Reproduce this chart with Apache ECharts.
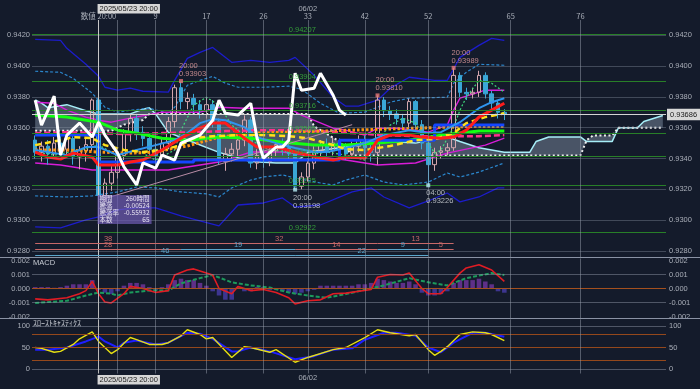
<!DOCTYPE html>
<html><head><meta charset="utf-8">
<script src="https://cdn.jsdelivr.net/npm/echarts@6/dist/echarts.min.js"></script>
<style>html,body{margin:0;padding:0;background:#141b2b;}#c{width:700px;height:389px;}</style>
</head><body><div id="c"></div>
<script>
// ---------------- DATA ----------------
const FIRST = -10, LAST = 89;           // bar numbers shown on the x axis
const barNumbers = [];
for (let i = FIRST; i <= LAST; i++) barNumbers.push(String(i));
const topTicks = {0: '数値 20:00', 9: '9', 17: '17', 26: '26', 33: '33', 42: '42', 52: '52', 65: '65', 76: '76'};
const dateTicks = {33: '06/02'};
const cursorLabel = '2025/05/23 20:00';
const vLines = [0, 3, 9, 17, 26, 33, 42, 52, 65, 76];
const mainTicks = [0.928, 0.930, 0.932, 0.934, 0.936, 0.938, 0.940, 0.942];
const macdTicks = [-0.002, -0.001, 0, 0.001, 0.002];
const stochTicks = [0, 50, 100];

// candles from bar -10 to bar 64 : [open, close, low, high]
const ohlc = [
[.9352,.9344,.9340,.9355],[.9344,.9348,.9338,.9351],[.9348,.9343,.9336,.9352],[.9343,.9350,.9340,.9354],
[.9350,.9346,.9341,.9356],[.9346,.9353,.9342,.9357],[.9353,.9341,.9336,.9355],[.9341,.9345,.9333,.9348],
[.9345,.9349,.9338,.9353],[.9349,.9378,.9345,.9379],[.9378,.9316,.9313,.9380],[.9316,.9324,.9312,.9327],
[.9324,.9331,.9319,.9335],[.9331,.9342,.9327,.9345],[.9342,.9356,.9339,.9359],[.9356,.9366,.9351,.9369],
[.9366,.9357,.9352,.9369],[.9357,.9353,.9348,.9361],[.9353,.9346,.9342,.9356],[.9346,.9342,.9336,.9350],
[.9342,.9350,.9338,.9354],[.9350,.9364,.9346,.9367],[.9364,.9386,.9360,.9388],[.9386,.9377,.9372,.93903],
[.9377,.9379,.9372,.9383],[.9379,.9375,.9370,.9382],[.9375,.9371,.9366,.9378],[.9371,.9375,.9366,.9380],
[.9375,.9364,.9360,.9378],[.9364,.9340,.9336,.9366],[.9338,.9343,.9332,.9347],[.9343,.9346,.9338,.9350],
[.9346,.9352,.9341,.9355],[.9352,.9365,.9348,.9368],[.9365,.9337,.9334,.9367],[.9337,.9342,.9333,.9346],
[.9342,.9338,.9334,.9346],[.9338,.9345,.9335,.9348],[.9345,.9349,.9341,.9352],[.9349,.9347,.9342,.9353],
[.9347,.9343,.9339,.9350],[.9343,.9322,.93198,.9345],[.9322,.9328,.9320,.9331],[.9328,.9337,.9325,.9340],
[.9337,.9345,.9333,.9348],[.9345,.9349,.9341,.9352],[.9349,.9345,.9341,.9353],[.9345,.9350,.9342,.9354],
[.9350,.9347,.9343,.9353],[.9347,.9343,.9339,.9350],[.9343,.9348,.9340,.9351],[.9348,.9352,.9344,.9355],
[.9352,.9347,.9343,.9355],[.9347,.9344,.9338,.9350],[.9344,.9378,.9336,.93810],[.9378,.9371,.9367,.9380],
[.9371,.9369,.9365,.9374],[.9369,.9366,.9362,.9372],[.9366,.9363,.9359,.9369],[.9363,.9377,.9360,.9379],
[.9377,.9362,.9358,.9378],[.9362,.9350,.9346,.9365],[.9350,.9336,.93226,.9352],[.9336,.9344,.9332,.9347],
[.9344,.9345,.9340,.9348],[.9345,.9347,.9342,.9350],[.9347,.9394,.9345,.93989],[.9394,.9383,.9380,.9396],
[.9383,.9382,.9378,.9386],[.9382,.9383,.9379,.9386],[.9383,.9394,.9380,.9397],[.9394,.9382,.9379,.9396],
[.9382,.9376,.9372,.9384],[.9376,.9370,.9366,.9378],[.9370,.93686,.9365,.9372]
];
const lastClose = 0.93686;

// indicator lines: [bar number, value]
const bbUpper3 = [[-10,.94174],[-6,.94168],[-5,.94116],[-2,.94012],[0,.93934],[1,.93863],[3,.93844],[5,.93857],[7,.93837],[11,.93831],[12,.93908],[14,.94051],[16,.94090],[18,.94122],[21,.94025],[24,.94038],[27,.94025],[30,.94038],[31,.94057],[34,.93941],[37,.93798],[39,.93740],[41,.93740],[44,.93779],[46,.93857],[49,.93928],[53,.93908],[55,.93908],[57,.94057],[60,.94135],[62,.94181],[64,.94168]];
const bbUpper2 = [[-10,.93967],[-6,.93960],[-4,.93921],[-1,.93824],[1,.93733],[3,.93701],[5,.93714],[8,.93727],[11,.93694],[12,.93733],[14,.93876],[16,.93908],[18,.93934],[20,.93889],[22,.93863],[26,.93863],[30,.93870],[32,.93850],[35,.93759],[38,.93694],[42,.93701],[46,.93766],[49,.93792],[55,.93798],[56,.93889],[58,.93960],[60,.94012],[64,.94006]];
const bbLower2 = [[-10,.93157],[-5,.93150],[-1,.93157],[3,.93183],[6,.93215],[9,.93209],[13,.93183],[17,.93170],[19,.93150],[21,.93209],[24,.93260],[26,.93280],[29,.93293],[31,.93274],[35,.93241],[37,.93228],[39,.93260],[42,.93293],[45,.93247],[48,.93228],[52,.93247],[55,.93306],[57,.93280],[60,.93312],[64,.93371]];
const bbLower3 = [[-10,.92956],[-6,.92949],[-2,.93001],[0,.93021],[3,.93066],[6,.93079],[9,.93079],[13,.93027],[19,.92962],[22,.93098],[26,.93111],[29,.93144],[31,.93085],[35,.93098],[40,.93183],[43,.93209],[45,.93150],[49,.93079],[52,.93124],[55,.93176],[57,.93118],[60,.93150],[63,.93209],[64,.93209]];
const bbUpper1 = [[-10,.93766],[-7,.93759],[-5,.93714],[-2,.93669],[0,.93649],[2,.93636],[5,.93662],[10,.93701],[14,.93701],[16,.93701],[19,.93733],[23,.93727],[30,.93727],[32,.93682],[37,.93597],[39,.93584],[42,.93552],[44,.93597],[47,.93597],[50,.93584],[52,.93571],[55,.93617],[56,.93714],[57,.93792],[61,.93844],[64,.93844]];
const bbLower1 = [[-10,.93371],[-6,.93358],[-1,.93325],[5,.93325],[11,.93325],[14,.93345],[19,.93377],[24,.93442],[29,.93442],[35,.93409],[39,.93390],[44,.93358],[50,.93371],[55,.93435],[61,.93487],[64,.93532]];
const maPink = [[-10,.93565],[-5,.93571],[0,.93565],[5,.93558],[10,.93565],[15,.93571],[20,.93578],[25,.93584],[30,.93584],[35,.93578],[40,.93565],[45,.93552],[50,.93545],[55,.93545],[60,.93545],[64,.93552]];
const maOrange = [[-10,.93455],[-5,.93455],[0,.93442],[5,.93435],[9,.93442],[12,.93468],[14,.93481],[19,.93539],[22,.93552],[25,.93565],[30,.93571],[35,.93578],[40,.93584],[45,.93591],[50,.93597],[55,.93604],[60,.93610],[64,.93610]];
const maYellow = [[-10,.93487],[-6,.93519],[-4,.93539],[-1,.93532],[1,.93487],[4,.93455],[7,.93442],[10,.93455],[13,.93487],[15,.93532],[18,.93545],[22,.93552],[26,.93552],[30,.93545],[33,.93532],[37,.93487],[39,.93461],[42,.93455],[46,.93481],[50,.93519],[53,.93526],[56,.93565],[58,.93630],[61,.93669],[64,.93694]];
const maGreen = [[-10,.93682],[-5,.93669],[0,.93636],[3,.93584],[6,.93565],[10,.93532],[14,.93519],[19,.93539],[24,.93532],[29,.93506],[34,.93487],[39,.93487],[44,.93500],[49,.93519],[54,.93552],[60,.93578],[64,.93578]];
const maRed = [[-10,.93442],[-8,.93409],[-6,.93396],[-4,.93435],[-1,.93409],[0,.93358],[3,.93358],[5,.93377],[7,.93390],[10,.93455],[13,.93532],[16,.93597],[18,.93630],[20,.93630],[21,.93597],[23,.93532],[25,.93474],[28,.93474],[31,.93442],[33,.93422],[35,.93403],[37,.93390],[39,.93409],[42,.93403],[43,.93455],[44,.93519],[46,.93552],[49,.93552],[51,.93539],[54,.93532],[56,.93539],[58,.93584],[60,.93669],[62,.93714],[64,.93759]];
const maLightBlue = [[-10,.93455],[-5,.93422],[-2,.93474],[0,.93474],[3,.93422],[6,.93455],[9,.93487],[12,.93519],[14,.93565],[16,.93630],[18,.93656],[20,.93649],[23,.93604],[25,.93539],[28,.93500],[31,.93468],[34,.93442],[36,.93442],[39,.93468],[42,.93500],[45,.93552],[49,.93584],[52,.93565],[54,.93571],[57,.93636],[60,.93727],[62,.93766],[64,.93792]];
const kijun = [[-10,.93552],[0,.93377],[15,.93390],[38,.93519],[53,.93617],[64,.93617]];
const fastDots = [[-10,.93442],[-7,.93422],[-3,.93455],[0,.93487],[3,.93422],[6,.93455],[9,.93390],[12,.93455],[13,.93584],[15,.93746],[17,.93798],[19,.93746],[21,.93617],[24,.93519],[27,.93455],[30,.93442],[33,.93422],[36,.93442],[39,.93422],[42,.93390],[44,.93519],[46,.93617],[48,.93662],[50,.93630],[52,.93500],[53,.93435],[54,.93455],[56,.93604],[57,.93714],[58,.93798],[60,.93908],[62,.93889],[64,.93831]];
const chikou = [[-10,.93779],[-9,.93617],[-7,.93805],[-6,.93422],[-5,.93552],[-3,.93630],[-1,.93539],[0,.93636],[1,.93552],[3,.93435],[4,.93345],[6,.93228],[7,.93371],[9,.93338],[10,.93422],[12,.93390],[13,.93500],[16,.93552],[18,.93649],[19,.93779],[20,.93694],[22,.93682],[24,.93759],[25,.93532],[26,.93403],[28,.93474],[29,.93474],[30,.93519],[31,.93954],[32,.93844],[34,.93857],[35,.93954],[37,.93811],[38,.93714],[39,.93682]];
const senkouA = [[-10,.9378],[-9,.9376],[-8,.9373],[-5,.9375],[-2,.9371],[0,.9369],[5,.9369],[7,.9372],[8,.9373],[9,.9369],[11,.9357],[14,.9352],[19,.9344],[24,.9338],[28,.9337],[31,.9337],[33,.9344],[38,.9347],[43,.9351],[46,.9351],[50,.9350],[55,.9354],[57,.9351],[60,.9347],[64,.9344],[68,.9344],[69,.9351],[71,.9354],[76,.9354],[77,.9351],[81,.9351],[82,.9360],[85,.9360],[86,.9364],[89,.9368]];
const senkouB = [[-10,.9358],[2,.9358],[4,.9362],[7,.9365],[8,.9369],[33,.9369],[34,.9361],[36,.9356],[38,.9351],[39,.9347],[40,.9342],[76,.9342],[77,.9352],[78,.9355],[81,.9355],[82,.9360],[89,.9360]];
const trendLine = [[1,.9314],[40,.9362]];
const fibLevels = [0.94207, 0.93904, 0.93716, 0.93565, 0.93413, 0.93225, 0.92922];
const peakHighs = [[13,.93903,'20:00'],[44,.93810,'20:00'],[56,.93989,'20:00']];
const peakLows = [[31,.93198,'20:00'],[52,.93226,'04:00']];
// zigzag wave counts: [from bar, to bar, bars]
const zzHighRow = [[-24,13,38],[13,44,32],[44,56,13]];
const zzSwingRow = [[-14,13,28,'up'],[13,31,19,'dn'],[31,44,14,'up'],[44,52,9,'dn'],[52,56,5,'up']];
const zzLowRow = [[-14,31,46],[31,52,22]];
const measureRows = [['期間','260時間'],['騰落','-0.00524'],['騰落率','-0.55932'],['本数','65']];

const macdLine = [[-10,-0.00074],[-8,-0.00081],[-5,-0.00066],[-3,-0.00037],[-2,-0.00015],[-1,0.00051],[0,-0.00037],[1,-0.00096],[2,-0.00103],[4,-0.00037],[5,0.00015],[7,0],[9,-0.00029],[11,-0.00015],[12,0.00096],[14,0.00132],[15,0.0014],[17,0.0011],[18,0.00096],[19,0],[21,-0.00037],[22,0.00015],[24,-0.00015],[26,-0.00007],[28,-0.00029],[30,-0.00066],[31,-0.0011],[33,-0.00088],[35,-0.00081],[37,-0.00037],[39,-0.00033],[43,-0.00007],[44,0.00081],[46,0.001],[48,0.00096],[49,0.0011],[51,0],[52,-0.00037],[54,-0.00037],[55,0.00007],[57,0.0011],[58,0.00147],[60,0.00169],[62,0.00132],[64,0.00051]];
const macdSignal = [[-10,-0.00103],[-5,-0.00088],[-2,-0.0005],[0,-0.00029],[2,-0.00037],[3,-0.0005],[5,-0.00029],[8,-0.00015],[11,-0.00015],[13,0.00037],[16,0.00074],[18,0.00096],[21,0.00044],[24,0.00022],[27,0.00007],[30,-0.00029],[33,-0.0005],[36,-0.00066],[39,-0.0004],[45,0.00022],[49,0.00074],[52,0.00044],[55,0.00022],[58,0.00074],[62,0.0011],[64,0.00096]];
// histogram from bar -10 to bar 64
const macdHist = [0.0001,0.0001,0.0001,0.00005,0.0001,0.0002,0.0003,0.0003,0.0003,0.0006,
-0.0001,-0.0003,-0.0004,-0.0002,0.0002,0.0004,0.0004,0.0003,0.0001,-0.0001,
0.0001,0.0003,0.0006,0.0007,0.0006,0.0006,0.0004,0.0002,-0.0002,-0.0005,
-0.0008,-0.0008,0.0001,-0.0002,-0.0002,0.0001,0.0001,-0.0001,-0.0001,-0.0002,
-0.0003,-0.0004,-0.0003,-0.0002,-0.0001,0.0002,0.0002,0.0002,0.0002,0.0002,
0.0002,0.0003,0.0003,0.0004,0.0007,0.0006,0.0005,0.0004,0.0004,0.0005,
0.0003,-0.0003,-0.0005,-0.0005,-0.0004,-0.0002,0.0004,0.0006,0.0006,0.0006,
0.0007,0.0005,0.0003,-0.0002,-0.0003];
const stochK = [[-10,50],[-9,48],[-7,39],[-6,41],[-4,57],[-3,70],[-1,86],[0,64],[2,36],[3,45],[4,60],[5,73],[6,68],[8,57],[10,57],[11,61],[13,77],[14,91],[16,80],[17,70],[18,73],[21,27],[23,52],[24,50],[27,39],[28,45],[31,16],[33,27],[37,45],[39,50],[42,73],[44,91],[46,84],[49,77],[50,80],[52,45],[53,32],[54,41],[55,52],[57,80],[59,86],[61,84],[62,80],[64,66]];
const stochD = [[-10,45],[-8,45],[-5,50],[-2,64],[0,75],[1,64],[3,50],[4,61],[6,66],[9,57],[11,61],[14,84],[16,82],[18,70],[21,41],[22,41],[24,50],[27,41],[31,23],[34,30],[37,45],[40,48],[42,68],[45,84],[47,84],[50,77],[52,50],[54,39],[56,61],[59,84],[61,84],[64,75]];
const stochLevels = [20, 50, 80];

// ---------------- LAYOUT / STYLE ----------------
const F = "'Liberation Sans','Noto Sans CJK JP',sans-serif";
const FJ = "'Noto Sans CJK JP',sans-serif";
const LBL = '#a9aeb8';
const zzRowY = [0.92852, 0.92813, 0.92774];
const P = i => i - FIRST;
const pts = a => a.map(d => [P(d[0]), d[1]]);

function lineS(data, color, width, type, z, extra) {
  return Object.assign({
    type: 'line', xAxisIndex: 0, yAxisIndex: 0, data: pts(data), showSymbol: false, symbol: 'none',
    lineStyle: {color: color, width: width, type: type || 'solid'}, silent: true, z: z || 2, animation: false
  }, extra || {});
}
function hLine(v, color) { return {yAxis: v, lineStyle: {color: color, width: 1, type: 'solid'}}; }
function vLineItems(bright) {
  return vLines.map(i => ({xAxis: P(i), lineStyle: {color: i === 0 ? bright : 'rgba(150,158,172,0.5)', width: 1, type: 'solid'}}));
}
function seg(s, e, y, color, text) {
  return [{coord: [P(Math.max(s, FIRST)), y], lineStyle: {color: color, width: 1, type: 'solid'},
           label: {show: true, position: 'insideMiddleTop', formatter: text, color: color, fontSize: 7.5, fontFamily: F, distance: 0}},
          {coord: [P(e), y]}];
}
function marks(data) {
  return {silent: true, symbol: ['none', 'none'], animation: false, precision: 8, label: {show: false}, data: data};
}
const SAL = '#c86868', BLU = '#5aa6cc';
const zzMarks = []
  .concat(zzHighRow.map(r => seg(r[0], r[1], zzRowY[0], SAL, String(r[2]))))
  .concat(zzSwingRow.map(r => seg(r[0], r[1], zzRowY[1], r[3] === 'up' ? SAL : BLU, String(r[2]))))
  .concat(zzLowRow.map(r => seg(r[0], r[1], zzRowY[2], BLU, String(r[2]))));

function yAx(grid, min, max, pos, ticks, fmt, margin) {
  return {type: 'value', gridIndex: grid, min: min, max: max, position: pos,
    axisLine: {show: false}, axisTick: {show: false}, splitLine: {show: false},
    axisLabel: {customValues: ticks, formatter: fmt, color: LBL, fontSize: 7.5, fontFamily: F, margin: margin}};
}
function xAx(grid, pos, map, offset, margin, show, font) {
  return {type: 'category', gridIndex: grid, data: barNumbers, position: pos, offset: offset || 0, boundaryGap: true,
    axisLine: {show: false}, axisTick: {show: false}, splitLine: {show: false},
    axisLabel: {show: show !== false, interval: (idx) => map[barNumbers[idx]] !== undefined,
      formatter: v => map[v] || '', color: LBL, fontSize: 7.5, fontFamily: font || F, margin: margin || 0}};
}

const chart = echarts.init(document.getElementById('c'));
const option = {
  backgroundColor: '#141b2b',
  animation: false,
  grid: [
    {left: 32, right: 34, top: 20, height: 237},
    {left: 32, right: 34, top: 258.4, height: 60.2},
    {left: 32, right: 34, top: 319.33, height: 54.17}
  ],
  xAxis: [
    xAx(0, 'top', topTicks, 0, 0, true, FJ),
    xAx(0, 'top', dateTicks, 8, -1),
    xAx(1, 'bottom', {}, 0, 0, false),
    xAx(2, 'bottom', dateTicks, 0, 1)
  ],
  yAxis: [
    yAx(0, 0.9276, 0.9430, 'left', mainTicks, v => v.toFixed(4), 2),
    yAx(0, 0.9276, 0.9430, 'right', mainTicks, v => v.toFixed(4), 3),
    yAx(1, -0.00215, 0.00215, 'left', macdTicks, v => v.toFixed(3), 2),
    yAx(1, -0.00215, 0.00215, 'right', macdTicks, v => v.toFixed(3), 3),
    yAx(2, -10, 115, 'left', stochTicks, v => String(v), 2),
    yAx(2, -10, 115, 'right', stochTicks, v => String(v), 3)
  ],
  series: [
    // reference lines of the price panel
    {type: 'line', xAxisIndex: 0, yAxisIndex: 0, data: [], z: 0, silent: true,
      markLine: marks([].concat(
          mainTicks.map(v => hLine(v, 'rgba(140,150,166,0.38)')),
          fibLevels.map(v => hLine(v, '#287f28')),
          vLineItems('#c8c8c8'),
          [[{coord: [P(trendLine[0][0]), trendLine[0][1]], lineStyle: {color: '#b88ca6', width: 1, type: 'solid'}},
            {coord: [P(trendLine[1][0]), trendLine[1][1]]}]]
        ))},
    // ichimoku cloud
    {type: 'custom', xAxisIndex: 0, yAxisIndex: 0, data: [[P(0), 0.935]], silent: true, z: 1,
      renderItem: function (params, api) {
        const a = senkouA.map(d => api.coord([P(d[0]), d[1]]));
        const b = senkouB.map(d => api.coord([P(d[0]), d[1]])).reverse();
        return {type: 'polygon', shape: {points: a.concat(b)}, style: {fill: 'rgba(125,142,162,0.5)'}};
      }},
    lineS(senkouA, '#a6eef8', 1.5, 'solid', 2),
    lineS(senkouB, '#eeeeee', 2, [2, 2.5], 2),
    lineS(bbUpper3, '#1c1ccc', 1.3, 'solid', 2),
    lineS(bbLower3, '#1c1ccc', 1.3, 'solid', 2),
    lineS(bbUpper2, '#2b86cc', 1.2, [3, 2], 2),
    lineS(bbLower2, '#2b86cc', 1.2, [3, 2], 2),
    lineS(bbUpper1, '#d81cd8', 1.4, 'solid', 2),
    lineS(bbLower1, '#d81cd8', 1.4, 'solid', 2),
    {type: 'candlestick', xAxisIndex: 0, yAxisIndex: 0, data: ohlc, barWidth: 4, silent: true, z: 3,
      itemStyle: {color: 'rgba(0,0,0,0)', color0: '#3aa6d6', borderColor: '#d4a6ae', borderColor0: '#3aa6d6', borderWidth: 1}},
    lineS(fastDots, '#3fdc7c', 1.2, [2, 2], 4),
    lineS(maPink, '#ff2f8c', 2.5, [6, 3], 4),
    lineS(maOrange, '#ff9510', 3, [2.5, 2], 4),
    lineS(maGreen, '#12ff12', 3, 'solid', 4),
    lineS(kijun, '#1446ff', 3, 'solid', 4, {step: 'end'}),
    lineS(maLightBlue, '#2f95f0', 2, 'solid', 4),
    lineS(maYellow, '#ffe01a', 2.5, [6, 4], 4),
    lineS(maRed, '#ff1c1c', 3, 'solid', 4),
    lineS(chikou, '#ffffff', 3, 'solid', 5),
    // price line, zigzag counts
    {type: 'line', xAxisIndex: 0, yAxisIndex: 0, data: [], z: 6, silent: true,
      markLine: marks([].concat([{yAxis: lastClose, lineStyle: {color: '#d4d4d4', width: 1, type: 'solid'},
          label: {show: true, position: 'end', formatter: lastClose.toFixed(5), backgroundColor: '#d8d8d8',
            color: '#1a1a1a', padding: [2, 3], fontSize: 7.5, fontFamily: F, distance: 1}}], zzMarks))},
    // peak annotations
    {type: 'scatter', xAxisIndex: 0, yAxisIndex: 0, z: 7, silent: true, symbol: 'rect', symbolSize: 4,
      itemStyle: {color: '#e87878'}, data: peakHighs.map(d => [P(d[0]), d[1], d[2]]),
      label: {show: true, position: 'top', align: 'left', distance: 1, offset: [-2, 0], lineHeight: 8,
        color: '#e8a0a0', fontSize: 7.5, fontFamily: F, formatter: p => p.data[2] + '\n' + p.data[1].toFixed(5)}},
    {type: 'scatter', xAxisIndex: 0, yAxisIndex: 0, z: 7, silent: true, symbol: 'rect', symbolSize: 4,
      itemStyle: {color: '#b4eaf2'}, data: peakLows.map(d => [P(d[0]), d[1], d[2]]),
      label: {show: true, position: 'bottom', align: 'left', distance: 2, offset: [-2, 0], lineHeight: 8,
        color: '#d8dce0', fontSize: 7.5, fontFamily: F, formatter: p => p.data[2] + '\n' + p.data[1].toFixed(5)}},
    // fibonacci labels
    {type: 'scatter', xAxisIndex: 0, yAxisIndex: 0, z: 7, silent: true, symbolSize: 1,
      itemStyle: {color: 'rgba(0,0,0,0)'}, data: fibLevels.map(v => [P(30), v]),
      label: {show: true, position: 'top', align: 'left', distance: 0, color: '#3cbc3c', fontSize: 7.5, fontFamily: F,
        formatter: p => p.data[1].toFixed(5)}},

    // MACD panel
    {type: 'line', xAxisIndex: 2, yAxisIndex: 2, data: [], z: 0, silent: true,
      markLine: marks([].concat([hLine(0.001, 'rgba(150,160,176,0.45)'), hLine(-0.001, 'rgba(150,160,176,0.45)'),
          hLine(0, '#a4501e')], vLineItems('#b8b8b8')))},
    {type: 'bar', xAxisIndex: 2, yAxisIndex: 2, data: macdHist, barWidth: '72%', silent: true, z: 2,
      itemStyle: {color: p => p.value >= 0 ? '#5e3088' : '#3d3590'}},
    {type: 'line', xAxisIndex: 2, yAxisIndex: 2, data: pts(macdSignal), showSymbol: false, symbol: 'none', silent: true, z: 3,
      lineStyle: {color: '#1c9a5c', width: 2, type: [4, 2]}},
    {type: 'line', xAxisIndex: 2, yAxisIndex: 2, data: pts(macdLine), showSymbol: false, symbol: 'none', silent: true, z: 4,
      lineStyle: {color: '#e01c24', width: 1.6}},

    // stochastics panel
    {type: 'line', xAxisIndex: 3, yAxisIndex: 4, data: [], z: 0, silent: true,
      markLine: marks([].concat([hLine(100, 'rgba(150,160,176,0.45)'), hLine(0, 'rgba(150,160,176,0.45)')],
          stochLevels.map(v => hLine(v, '#94481c')), vLineItems('#b8b8b8')))},
    {type: 'line', xAxisIndex: 3, yAxisIndex: 4, data: pts(stochD), showSymbol: false, symbol: 'none', silent: true, z: 3,
      lineStyle: {color: '#1e1eff', width: 2}},
    {type: 'line', xAxisIndex: 3, yAxisIndex: 4, data: pts(stochK), showSymbol: false, symbol: 'none', silent: true, z: 4,
      lineStyle: {color: '#e6e012', width: 1.4}}
  ]
};
chart.setOption(option);

// overlays anchored on the cursor bar
const cur = chart.convertToPixel({gridIndex: 0}, [P(0), 0.935]);
const cx = cur[0];
const gfx = [
  {type: 'line', shape: {x1: 0, y1: 257.5, x2: 700, y2: 257.5}, style: {stroke: '#8a92a4', lineWidth: 1}, z: 10},
  {type: 'line', shape: {x1: 0, y1: 318.5, x2: 700, y2: 318.5}, style: {stroke: '#8a92a4', lineWidth: 1}, z: 10},
  {type: 'text', x: 33, y: 259, style: {text: 'MACD', fill: '#c8ccd4', font: '7.5px ' + F}, z: 10},
  {type: 'text', x: 33, y: 319, style: {text: 'ｽﾛｰｽﾄｷｬｽﾃｨｸｽ', fill: '#c8ccd4', font: '8px ' + FJ}, z: 10},
  {type: 'text', x: cx - 1, y: 4, style: {text: cursorLabel, fill: '#202020', font: '7.5px ' + F,
    backgroundColor: '#d6d6d6', padding: [1, 2]}, z: 10},
  {type: 'text', x: cx - 1, y: 375, style: {text: cursorLabel, fill: '#202020', font: '7.5px ' + F,
    backgroundColor: '#d6d6d6', padding: [1, 2]}, z: 10},
  {type: 'rect', shape: {x: cx - 1, y: 195, width: 54, height: 29}, style: {fill: 'rgba(112,92,182,0.7)'}, z: 10}
];
measureRows.forEach((r, k) => {
  gfx.push({type: 'text', x: cx + 1, y: 195 + k * 7, style: {text: r[0], fill: '#e6e2f2', font: '6.5px ' + FJ}, z: 11});
  gfx.push({type: 'text', x: cx + 51, y: 195 + k * 7, style: {text: r[1], fill: '#e6e2f2', font: '6.5px ' + FJ, align: 'right'}, z: 11});
});
chart.setOption({graphic: gfx});
</script>
</body></html>
